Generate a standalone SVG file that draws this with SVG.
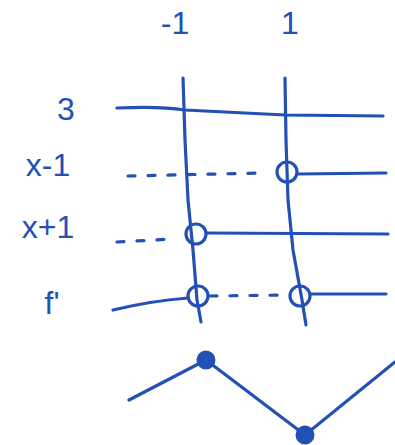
<svg xmlns="http://www.w3.org/2000/svg" width="395" height="445" viewBox="0 0 395 445">
<style>
.l{fill:none;stroke:#2350b4;stroke-width:3.2;stroke-linecap:round;stroke-linejoin:round}
.d{fill:none;stroke:#2350b4;stroke-width:3.2;stroke-linecap:round;stroke-dasharray:7 13}
.c{fill:none;stroke:#2350b4;stroke-width:3.2}
.f{fill:#2350b4;stroke:#2350b4;stroke-width:3}
text{font-family:"Liberation Sans",Arial,sans-serif;fill:#2350b4;font-size:32px}
</style>
<rect width="395" height="445" fill="#fff"/>
<g id="labels">
<text x="175" y="34" text-anchor="middle">-1</text>
<text x="290" y="34" text-anchor="middle">1</text>
<text x="66" y="120" text-anchor="middle">3</text>
<text x="48" y="176" text-anchor="middle">x-1</text>
<text x="48" y="238" text-anchor="middle">x+1</text>
<text x="52" y="314" text-anchor="middle">f'</text>
</g>
<g id="grid">
<path class="l" d="M183,78 L185,140 L188,200 L193,250 L197,300 L201,322"/>
<path class="l" d="M285,78 L286,140 L288,200 L293,250 L302,300 L306,325"/>
<path class="l" d="M117,108 Q160,106 185,110 L285,115 L383,116"/>
<path class="d" d="M128,176 L262,173"/>
<circle class="c" cx="287" cy="172" r="10"/>
<path class="l" d="M297,174 L386,173"/>
<path class="d" d="M117,242 L172,239"/>
<circle class="c" cx="196" cy="234" r="10"/>
<path class="l" d="M207,233 L388,234"/>
<path class="l" d="M113,310 Q150,301 188,298"/>
<circle class="c" cx="198" cy="296" r="10"/>
<path class="d" d="M210,296 L289,295"/>
<circle class="c" cx="300" cy="296" r="10"/>
<path class="l" d="M310,294 L386,294"/>
</g>
<g id="graph">
<path class="l" d="M129,400 L206,360 L305,435 L395,362"/>
<circle class="f" cx="206" cy="360" r="8"/>
<circle class="f" cx="305" cy="435" r="8"/>
</g>
</svg>
